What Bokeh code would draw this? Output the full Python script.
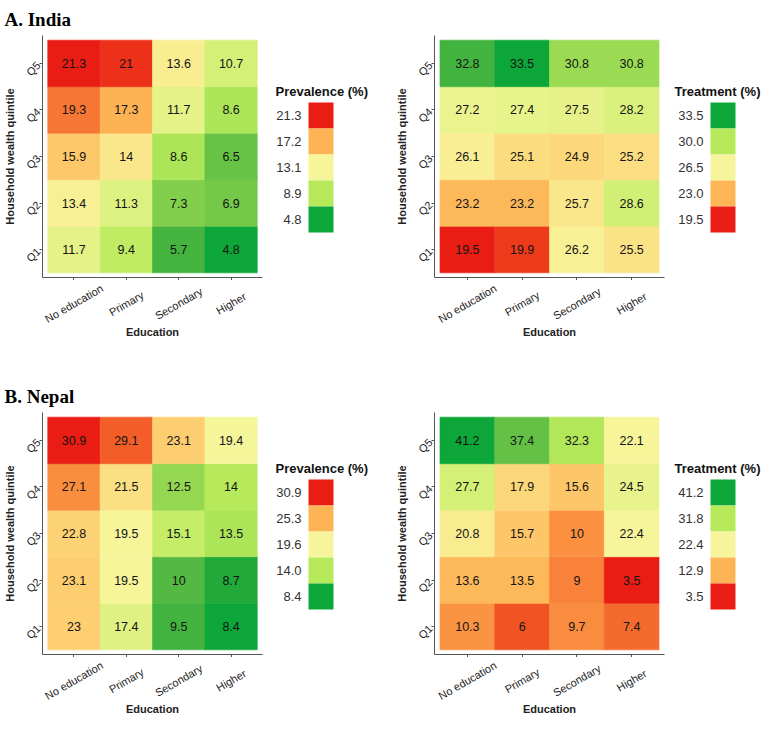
import numpy as np
from bokeh.plotting import figure
from bokeh.models import ColumnDataSource, FactorRange, Range1d, LinearColorMapper, Title
from bokeh.layouts import row, column
from bokeh.transform import transform
from bokeh.core.properties import value
from bokeh.embed import file_html
from bokeh.resources import INLINE

# ---------------- data ----------------
education = ["No education", "Primary", "Secondary", "Higher"]
quintiles = ["Q1", "Q2", "Q3", "Q4", "Q5"]

# rows: Q1 .. Q5 ; columns: education order
india_prevalence = [
    [11.7, 9.4, 5.7, 4.8],
    [13.4, 11.3, 7.3, 6.9],
    [15.9, 14, 8.6, 6.5],
    [19.3, 17.3, 11.7, 8.6],
    [21.3, 21, 13.6, 10.7],
]
india_treatment = [
    [19.5, 19.9, 26.2, 25.5],
    [23.2, 23.2, 25.7, 28.6],
    [26.1, 25.1, 24.9, 25.2],
    [27.2, 27.4, 27.5, 28.2],
    [32.8, 33.5, 30.8, 30.8],
]
nepal_prevalence = [
    [23, 17.4, 9.5, 8.4],
    [23.1, 19.5, 10, 8.7],
    [22.8, 19.5, 15.1, 13.5],
    [27.1, 21.5, 12.5, 14],
    [30.9, 29.1, 23.1, 19.4],
]
nepal_treatment = [
    [10.3, 6, 9.7, 7.4],
    [13.6, 13.5, 9, 3.5],
    [20.8, 15.7, 10, 22.4],
    [27.7, 17.9, 15.6, 24.5],
    [41.2, 37.4, 32.3, 22.1],
]

# legend breaks (low -> high)
india_prev_breaks = [4.8, 8.9, 13.1, 17.2, 21.3]
india_treat_breaks = [19.5, 23.0, 26.5, 30.0, 33.5]
nepal_prev_breaks = [8.4, 14.0, 19.6, 25.3, 30.9]
nepal_treat_breaks = [3.5, 12.9, 22.4, 31.8, 41.2]

# ---------------- colours ----------------
GREEN_TO_RED = ["#0DA638", "#B9EB5B", "#F7F59B", "#FDB555", "#EA1D15"]
RED_TO_GREEN = GREEN_TO_RED[::-1]

_M = np.array([[0.4124, 0.3576, 0.1805], [0.2126, 0.7152, 0.0722], [0.0193, 0.1192, 0.9505]])
_Minv = np.linalg.inv(_M)
_W = _M @ np.ones(3)


def _lin(c):
    return np.where(c <= 0.04045, c / 12.92, ((c + 0.055) / 1.055) ** 2.4)


def _delin(c):
    c = np.clip(c, 0, None)
    return np.where(c <= 0.0031308, 12.92 * c, 1.055 * c ** (1 / 2.4) - 0.055)


def _f(t):
    d = 6 / 29
    return np.where(t > d ** 3, np.cbrt(t), t / (3 * d * d) + 4 / 29)


def _finv(t):
    d = 6 / 29
    return np.where(t > d, t ** 3, 3 * d * d * (t - 4 / 29))


def to_lab(h):
    rgb = np.array([int(h[i:i + 2], 16) for i in (1, 3, 5)]) / 255.0
    fx, fy, fz = _f(_M @ _lin(rgb) / _W)
    return np.array([116 * fy - 16, 500 * (fx - fy), 200 * (fy - fz)])


def from_lab(lab):
    L, a, b = lab
    fy = (L + 16) / 116
    fx = fy + a / 500
    fz = fy - b / 200
    xyz = _finv(np.array([fx, fy, fz])) * _W
    rgb = np.clip(_delin(_Minv @ xyz), 0, 1)
    return "#%02x%02x%02x" % tuple(int(round(v * 255)) for v in rgb)


def ramp(stops, n=256):
    labs = [to_lab(s) for s in stops]
    out = []
    for t in np.linspace(0, 1, n):
        pos = t * (len(stops) - 1)
        i = min(int(pos), len(stops) - 2)
        fr = pos - i
        out.append(from_lab(labs[i] * (1 - fr) + labs[i + 1] * fr))
    return out


FONT = value("Liberation Sans")
FRAME_H = 242
HEAT_BOTTOM = 3
TICK_LABEL_DY = 26     # centre of x tick labels below the frame
AXIS_TITLE_DY = 54     # centre of "Education" below the frame


def heatmap(matrix, breaks, stops, frame_w, left, top, title=None, title_offset=0):
    edu, q, v = [], [], []
    for qi, qq in enumerate(quintiles):
        for ei, ee in enumerate(education):
            edu.append(ee)
            q.append(qq)
            v.append(matrix[qi][ei])
    src = ColumnDataSource(dict(edu=edu, q=q, v=v, label=[f"{x:g}" for x in v]))
    mapper = LinearColorMapper(palette=ramp(stops), low=breaks[0], high=breaks[-1])
    p = figure(
        x_range=FactorRange(*education, range_padding=0.1, range_padding_units="absolute"),
        y_range=FactorRange(*quintiles, range_padding=0.1, range_padding_units="absolute"),
        frame_width=frame_w, frame_height=FRAME_H, output_backend="svg", toolbar_location=None,
        min_border_left=left, min_border_right=5, min_border_top=top, min_border_bottom=HEAT_BOTTOM,
    )
    p.rect("edu", "q", 1, 1, source=src, fill_color=transform("v", mapper),
           line_color=transform("v", mapper), line_width=0.6)
    p.text("edu", "q", text="label", source=src, text_align="center", text_baseline="middle",
           text_font=FONT, text_font_size="12.5px", text_color="#141414")
    p.xgrid.visible = False
    p.ygrid.visible = False
    p.outline_line_color = None
    p.yaxis.axis_label = "Household wealth quintile"
    p.yaxis.major_label_orientation = np.pi / 4
    for ax in (p.xaxis[0], p.yaxis[0]):
        ax.axis_line_color = "#555555"
        ax.major_tick_line_color = "#555555"
        ax.major_tick_out = 3
        ax.major_tick_in = 0
        ax.minor_tick_line_color = None
        ax.major_label_text_font = "Liberation Sans"
        ax.major_label_text_font_size = "11px"
        ax.major_label_text_color = "#222222"
        ax.major_label_standoff = 1
        ax.axis_label_text_font = "Liberation Sans"
        ax.axis_label_text_font_size = "11px"
        ax.axis_label_text_font_style = "bold"
        ax.axis_label_text_color = "#222222"
        ax.axis_label_standoff = 1
    # the x tick labels are drawn, centred and rotated, in the strip below
    p.xaxis.major_label_text_color = None
    p.xaxis.major_label_text_font_size = "1px"
    p.xaxis.major_label_standoff = 0
    if title:
        p.add_layout(Title(text=title, align="left", offset=title_offset, standoff=12,
                           text_font="Liberation Serif", text_font_size="19px",
                           text_font_style="bold", text_color="#000000"), "above")
    return p, mapper


def tick_strip(heat, frame_w, left, height):
    t = figure(x_range=heat.x_range, y_range=Range1d(height, 0), frame_width=frame_w, frame_height=height,
               output_backend="svg", toolbar_location=None, x_axis_type=None, y_axis_type=None,
               min_border_left=left, min_border_right=5, min_border_top=0, min_border_bottom=0)
    t.outline_line_color = None
    t.xgrid.visible = False
    t.ygrid.visible = False
    src = ColumnDataSource(dict(edu=education))
    t.text(x="edu", y=TICK_LABEL_DY - HEAT_BOTTOM, text="edu", source=src, angle=np.pi / 6,
           text_align="center", text_baseline="middle",
           text_font=FONT, text_font_size="11px", text_color="#222222")
    t.text(x=[len(education) / 2], y=[AXIS_TITLE_DY - HEAT_BOTTOM], text=["Education"],
           text_align="center", text_baseline="middle",
           text_font=FONT, text_font_size="11px", text_font_style="bold", text_color="#222222")
    return t


def legend(breaks, mapper, name, width, top, bottom, title_x):
    vals = list(breaks)[::-1]
    n = len(vals)
    box_h = 26
    box_top = 67
    ys = [box_top + box_h * (i + 0.5) for i in range(n)]
    src = ColumnDataSource(dict(v=vals, y=ys, label=[f"{x:.1f}" for x in vals]))
    p = figure(frame_width=width, frame_height=FRAME_H, output_backend="svg", toolbar_location=None,
               x_range=Range1d(0, width), y_range=Range1d(FRAME_H, 0),
               x_axis_type=None, y_axis_type=None,
               min_border_left=0, min_border_right=0, min_border_top=top, min_border_bottom=bottom)
    p.outline_line_color = None
    p.xgrid.visible = False
    p.ygrid.visible = False
    p.rect(x=53.5, y="y", width=25, height=box_h, source=src,
           fill_color=transform("v", mapper), line_color=None)
    p.text(x=34, y="y", text="label", source=src, text_align="right", text_baseline="middle",
           text_font=FONT, text_font_size="13px", text_color="#333333")
    p.text(x=[title_x], y=[box_top - 11], text=[name], text_align="left", text_baseline="middle",
           text_font=FONT, text_font_size="13px", text_font_style="bold", text_color="#111111")
    return p


def panel(prev, prev_breaks, treat, treat_breaks, title, top, bottom):
    h1, m1 = heatmap(prev, prev_breaks, GREEN_TO_RED, 220, 38, top, title, -38)
    h2, m2 = heatmap(treat, treat_breaks, RED_TO_GREEN, 230, 49, top)
    t1 = tick_strip(h1, 220, 38, bottom - HEAT_BOTTOM)
    t2 = tick_strip(h2, 230, 49, bottom - HEAT_BOTTOM)
    l1 = legend(prev_breaks, m1, "Prevalence (%)", 118, top, bottom, 8)
    l2 = legend(treat_breaks, m2, "Treatment (%)", 94, top, bottom, 5)
    return row(column(h1, t1), l1, column(h2, t2), l2)


pa = panel(india_prevalence, india_prev_breaks, india_treatment, india_treat_breaks, "A. India", 35, 63)
pb = panel(nepal_prevalence, nepal_prev_breaks, nepal_treatment, nepal_treat_breaks, "B. Nepal", 72, 63)

p = column(pa, pb)

open("out.html", "w").write(file_html(p, INLINE))
